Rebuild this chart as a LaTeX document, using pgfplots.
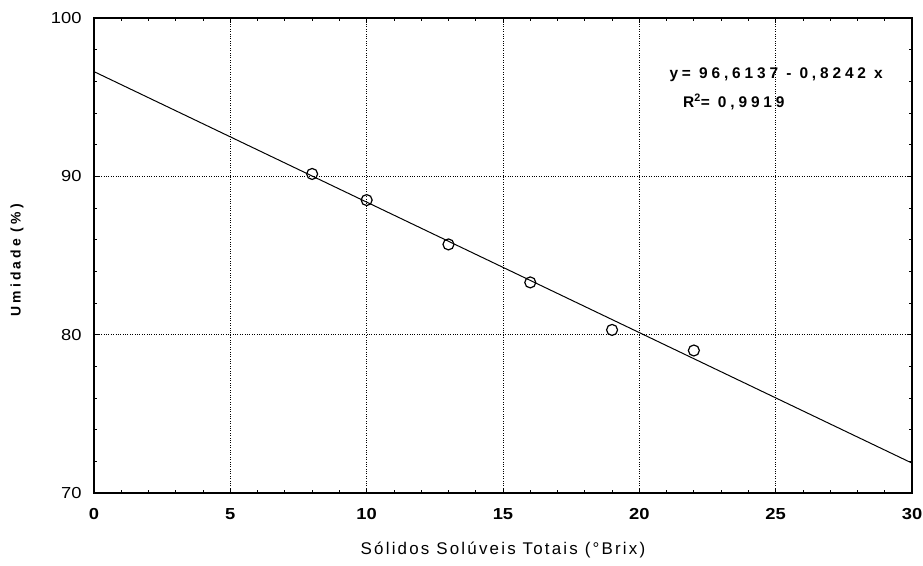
\documentclass[border=0pt]{standalone}
\usepackage{fontspec}
\setmainfont{Liberation Sans}
\newfontfamily\spaced[LetterSpace=13]{Liberation Sans}
\newfontfamily\ylfont[LetterSpace=22]{Liberation Sans}
\newfontfamily\eqfont[LetterSpace=25]{Liberation Sans}
\newfontfamily\tickfont[FakeStretch=1.15]{Liberation Sans}
\usepackage{pgfplots}
\pgfplotsset{compat=1.18}
\begin{document}
\begin{tikzpicture}
\path[use as bounding box] (-94bp,-73bp) rectangle (829bp,493bp);
\begin{axis}[
  scale only axis,
  width=818bp, height=475bp,
  xmin=0, xmax=30, ymin=70, ymax=100,
  xtick={0,5,...,30}, ytick={70,80,90,100},
  minor x tick num=4, minor y tick num=4,
  tick align=inside,
  major tick length=5bp, minor tick length=3bp,
  axis line style={line width=1.3pt},
  every tick/.style={black, line width=0.8pt},
  grid=major,
  major grid style={dotted, black, line width=0.6pt},
  /pgf/number format/assume math mode=true,
  yticklabel style={font=\tickfont\fontsize{16}{18}\selectfont, xshift=-9bp},
  xticklabel style={font=\tickfont\bfseries\fontsize{16}{18}\selectfont, yshift=-12bp},
  xlabel={\spaced\fontsize{17}{19}\selectfont Sólidos Solúveis Totais (°Brix)},
  ylabel={\ylfont\bfseries\fontsize{14}{16}\selectfont Umidade (\%)},
  xlabel style={at={(axis description cs:0.5,-0.12)}, anchor=center},
  ylabel style={at={(axis description cs:-0.094,0.49)}, anchor=center},
]
\addplot[black, line width=1pt] coordinates {(0,96.6137) (30,71.8877)};
\addplot[only marks, mark=o, mark size=5.5bp, mark options={line width=1.2pt, black}]
  coordinates {(8,90.15) (10,88.5) (13,85.7) (16,83.3) (19,80.3) (22,79.0)};
\node[anchor=west, inner sep=0pt, font=\eqfont\bfseries\fontsize{15.5}{17}\selectfont] at (axis cs:21.1,96.4) {y= 96,6137 - 0,8242 x};
\node[anchor=west, inner sep=0pt, font=\eqfont\bfseries\fontsize{15.5}{17}\selectfont] at (axis cs:21.6,94.7) {R\textsuperscript{2}= 0,9919};
\end{axis}
\end{tikzpicture}
\end{document}
